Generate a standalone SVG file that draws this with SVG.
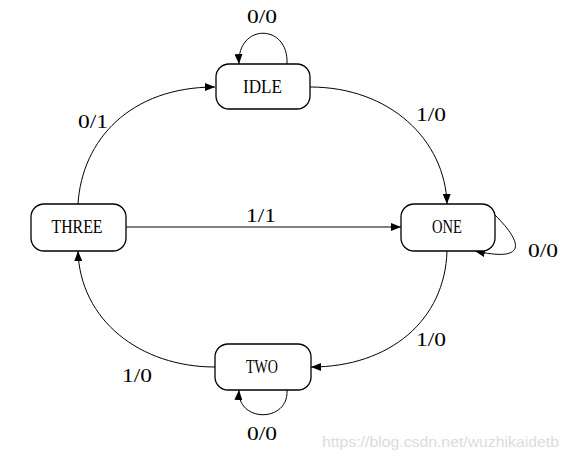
<svg xmlns="http://www.w3.org/2000/svg" width="569" height="461" viewBox="0 0 569 461">
<style>
.node rect{fill:#fff;stroke:#000;stroke-width:1.3}
.lbl{font-family:"Liberation Serif","DejaVu Serif",serif;font-size:19px;fill:#000;text-anchor:middle}
.edge{fill:none;stroke:#000;stroke-width:1;marker-end:url(#arr)}
.wm{font-family:"Liberation Sans","DejaVu Sans",sans-serif;font-size:14px;fill:#dcdcdc}
</style>
<defs>
<marker id="arr" viewBox="0 0 10 8" refX="10" refY="4" markerWidth="10" markerHeight="8" markerUnits="userSpaceOnUse" orient="auto">
<path d="M0,0 L10,4 L0,8 Z" fill="#000"/>
</marker>
</defs>
<rect width="569" height="461" fill="#fff"/>
<g id="connectors">
<path class="edge" d="M287,64 C289,23 237,23 239,64"/>
<path class="edge" d="M287,390 C289,423 237,423 239,390"/>
<path class="edge" d="M495,215 C525,245 525,262 475,251"/>
<path class="edge" d="M78,204 C82,140 130,87 215,87"/>
<path class="edge" d="M310,87 C390,87 445,140 447,204"/>
<path class="edge" d="M126,227 L401,227"/>
<path class="edge" d="M447,251 C445,320 390,367 311,367"/>
<path class="edge" d="M215,367 C140,367 80,320 78,251"/>
<text class="lbl" x="262" y="23" textLength="30" lengthAdjust="spacingAndGlyphs">0/0</text>
<text class="lbl" x="93" y="128" textLength="30" lengthAdjust="spacingAndGlyphs">0/1</text>
<text class="lbl" x="431" y="121" textLength="30" lengthAdjust="spacingAndGlyphs">1/0</text>
<text class="lbl" x="261" y="222" textLength="30" lengthAdjust="spacingAndGlyphs">1/1</text>
<text class="lbl" x="543" y="257" textLength="30" lengthAdjust="spacingAndGlyphs">0/0</text>
<text class="lbl" x="431" y="346" textLength="30" lengthAdjust="spacingAndGlyphs">1/0</text>
<text class="lbl" x="137" y="382" textLength="30" lengthAdjust="spacingAndGlyphs">1/0</text>
<text class="lbl" x="262" y="440" textLength="30" lengthAdjust="spacingAndGlyphs">0/0</text>
</g>
<g id="IDLE" class="node">
<rect x="216" y="64" width="94" height="45" rx="13"/>
<text class="lbl" x="262.5" y="93" textLength="39" lengthAdjust="spacingAndGlyphs">IDLE</text>
</g>
<g id="ONE" class="node">
<rect x="401" y="204" width="94" height="47" rx="13"/>
<text class="lbl" x="447" y="233" textLength="30" lengthAdjust="spacingAndGlyphs">ONE</text>
</g>
<g id="THREE" class="node">
<rect x="31" y="204" width="95" height="47" rx="13"/>
<text class="lbl" x="77" y="233" textLength="51" lengthAdjust="spacingAndGlyphs">THREE</text>
</g>
<g id="TWO" class="node">
<rect x="215" y="344" width="96" height="46" rx="13"/>
<text class="lbl" x="262" y="373" textLength="32" lengthAdjust="spacingAndGlyphs">TWO</text>
</g>
<text class="wm" x="322" y="447" textLength="237" lengthAdjust="spacingAndGlyphs">https://blog.csdn.net/wuzhikaidetb</text>
</svg>
